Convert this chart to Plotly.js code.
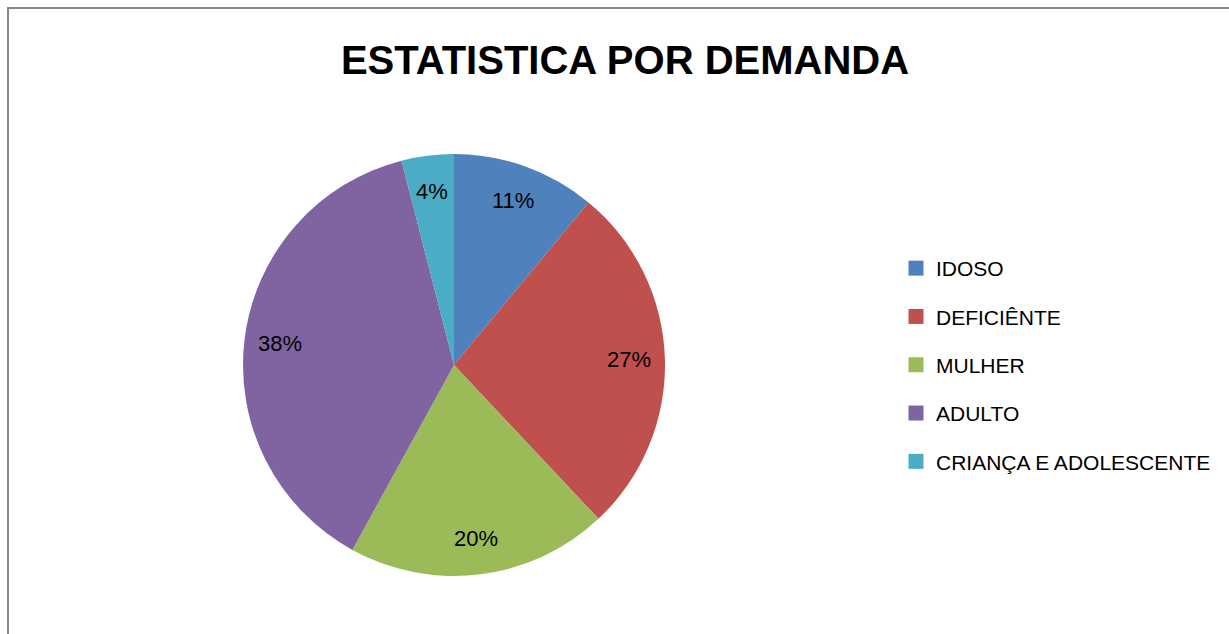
<!DOCTYPE html>
<html><head><meta charset="utf-8">
<script src="https://cdn.plot.ly/plotly-3.0.1.min.js"></script>
<style>body{margin:0;padding:0;background:#fff;overflow:hidden}#frame{position:absolute;left:7px;top:7px;width:1300px;height:700px;border-left:2px solid #868686;border-top:2px solid #868686;pointer-events:none}</style>
</head><body>
<div id="chart" style="width:1229px;height:634px;"></div>
<div id="frame"></div>
<script>
const categories = ["IDOSO","DEFICIÊNTE","MULHER","ADULTO","CRIANÇA E ADOLESCENTE"];
const values = [11, 27, 20, 38, 4];
const colors = ["#4F81BD","#C0504D","#9BBB59","#8064A2","#4BACC6"];
const FONT = "Liberation Sans, Arial, sans-serif";

const W = 1229, H = 634;
const pieDom = {x: [243/W, 665/W], y: [58/H, 480/H]};

const traces = [{
  type: "pie", labels: categories, values: values, sort: false, direction: "clockwise", rotation: 0,
  marker: {colors: colors, line: {width: 0}},
  textinfo: "none", showlegend: false, hoverinfo: "label+percent",
  domain: pieDom
}];
categories.forEach((c, i) => traces.push({
  type: "scatter", mode: "markers", x: [null], y: [null], name: c, legendgroup: "g" + i,
  marker: {symbol: "square", size: 15, color: colors[i]}, showlegend: true, hoverinfo: "skip"
}));

// percentage labels placed at each slice's mid-angle, derived from the data
const total = values.reduce((a, b) => a + b, 0);
const cx = (pieDom.x[0] + pieDom.x[1]) / 2, cy = (pieDom.y[0] + pieDom.y[1]) / 2;
const R = (pieDom.x[1] - pieDom.x[0]) * W / 2;
let cum = 0;
const annotations = values.map(v => {
  const mid = (cum + v / 2) / total * 2 * Math.PI; cum += v;
  const r = 0.83 * R;
  return {xref: "paper", yref: "paper", showarrow: false,
    x: cx + r * Math.sin(mid) / W, y: cy + r * Math.cos(mid) / H,
    xanchor: "center", yanchor: "middle",
    text: Math.round(v / total * 100) + "%", font: {family: FONT, size: 22, color: "#000"}};
});

const layout = {
  width: W, height: H, margin: {l: 0, r: 0, t: 0, b: 0},
  paper_bgcolor: "#fff", plot_bgcolor: "rgba(0,0,0,0)",
  title: {text: "<b>ESTATISTICA POR DEMANDA</b>", font: {family: FONT, size: 40, color: "#000"},
          x: 625/W, xanchor: "center", y: 1 - 60/H, yanchor: "middle", yref: "container"},
  xaxis: {visible: false, domain: [0.9, 1]}, yaxis: {visible: false, domain: [0.9, 1]},
  legend: {x: 896/W, xanchor: "left", y: 1 - 248/H, yanchor: "top", tracegroupgap: 18,
           font: {family: FONT, size: 21, color: "#000"}, bgcolor: "rgba(0,0,0,0)"},
  annotations: annotations
};
Plotly.newPlot("chart", traces, layout, {displayModeBar: false, staticPlot: true});
</script></body></html>
